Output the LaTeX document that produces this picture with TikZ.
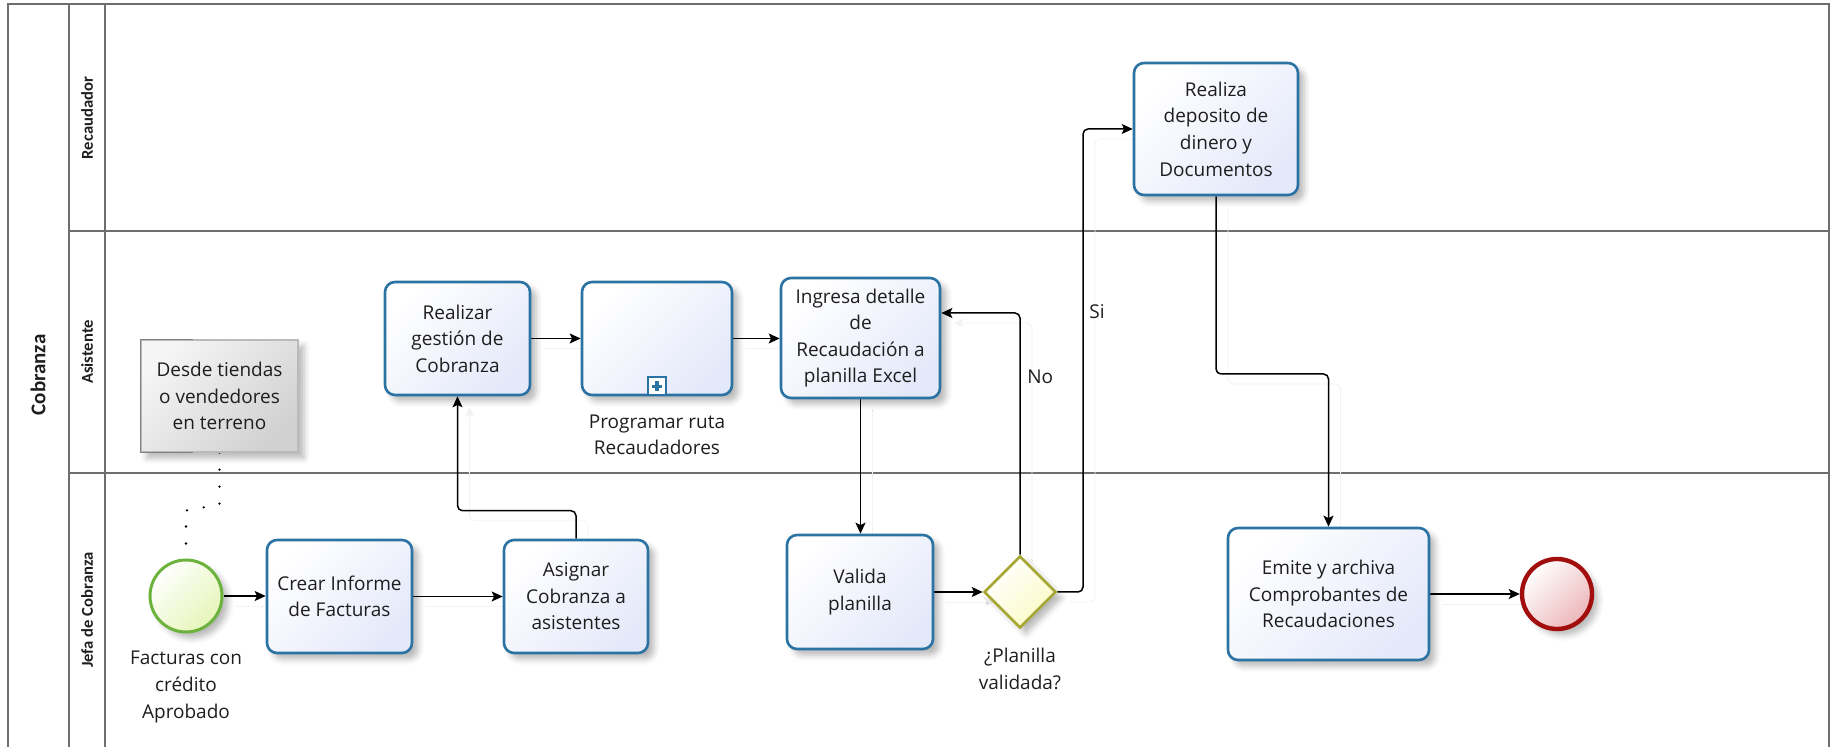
\documentclass[tikz,border=0pt]{standalone}
\usepackage{fontspec}
\setmainfont{Open Sans}
\newfontfamily\lanefont{Carlito}
\usetikzlibrary{arrows.meta,shadows.blur,shapes.geometric,calc}

\definecolor{taskline}{HTML}{2A73A2}
\definecolor{taskfill}{HTML}{E4E9FA}
\definecolor{startline}{HTML}{6CB33E}
\definecolor{startfill}{HTML}{E6F5B8}
\definecolor{endline}{HTML}{A20E0E}
\definecolor{endfill}{HTML}{ECB6B9}
\definecolor{gwline}{HTML}{A8A735}
\definecolor{gwfill}{HTML}{FAFAC6}
\definecolor{poolline}{HTML}{6E6E6E}
\definecolor{txt}{HTML}{1E1E1E}

\pgfdeclarelayer{flows}
\pgfdeclarelayer{front}
\pgfsetlayers{main,flows,front}

\begin{document}
\begin{tikzpicture}[x=0.5pt,y=-0.5pt,
  font=\fontsize{9.5pt}{13.3pt}\selectfont, text=txt,
  softshadow/.style={blur shadow={shadow xshift=3pt, shadow yshift=-3pt,
      shadow blur radius=3pt, shadow opacity=28}},
  task/.style={rectangle, rounded corners=5pt, draw=taskline, line width=1.3pt,
      top color=white, bottom color=taskfill, shading angle=45,
      align=center, inner sep=2pt, softshadow,
      minimum width=72.5pt, minimum height=56.5pt},
  gateway/.style={diamond, draw=gwline, line width=1.3pt, inner sep=0pt,
      top color=white, bottom color=gwfill, shading angle=45,
      minimum width=36pt, minimum height=36pt, softshadow},
  startev/.style={circle, draw=startline, line width=1.5pt, inner sep=0pt,
      top color=white, bottom color=startfill, shading angle=45,
      minimum size=36pt, softshadow},
  endev/.style={circle, draw=endline, line width=2.2pt, inner sep=0pt,
      top color=white, bottom color=endfill, shading angle=45,
      minimum size=35pt, softshadow},
  annot/.style={rectangle, draw=black!27, line width=0.6pt, inner sep=2pt,
      top color=black!4, bottom color=black!18, shading angle=45,
      align=center, minimum width=78.5pt, minimum height=56pt, softshadow},
  bracket/.style={draw=black!50, line width=0.7pt},
  lbl/.style={align=center, inner sep=0pt},
  pool/.style={draw=poolline, line width=0.8pt},
  lanelbl/.style={rotate=90, inner sep=0pt,
      font=\lanefont\bfseries\fontsize{8.3pt}{10pt}\selectfont},
  flow/.style={draw=black, line width=0.75pt, rounded corners=2.5pt,
      -{Stealth[length=5.5pt,width=5pt,inset=1.2pt]},
      preaction={draw=black!5, transform canvas={shift={(6pt,-5pt)}}}},
  assoc/.style={draw=black, line width=1.3pt, line cap=round,
      dash pattern=on 0pt off 8.5pt}]

\useasboundingbox (0,0) rectangle (1837,747);

% pool and lanes
\draw[pool] (8,747) -- (8,4) -- (1829,4) -- (1829,747);
\draw[pool] (69,4) -- (69,747);
\draw[pool] (105,4) -- (105,747);
\draw[pool] (69,231) -- (1829,231);
\draw[pool] (69,473) -- (1829,473);

\begin{pgfonlayer}{front}
\node[lanelbl, font=\lanefont\bfseries\fontsize{10.5pt}{12pt}\selectfont] (poolname) at (38,375) {Cobranza};
\node[lanelbl] (lanerec) at (87,118) {Recaudador};
\node[lanelbl] (laneasi) at (87,352) {Asistente};
\node[lanelbl] (lanejef) at (87,610) {Jefa de Cobranza};

% events, gateway and tasks
\node[startev] (start) at (186,596) {};
\node[lbl] (startlbl) at (186,687) {Facturas con\\crédito\\Aprobado};

\node[annot] (note) at (219.5,396) {Desde tiendas\\o vendedores\\en terreno};
\draw[bracket] ($(note.north west)+(53,0)$) -- (note.north west)
   -- (note.south west) -- ($(note.south west)+(53,0)$);

\node[task] (crear) at (339.5,596.5) {Crear Informe\\de Facturas};
\node[task, minimum width=72pt] (asignar) at (576,596.5) {Asignar\\Cobranza a\\asistentes};
\node[task] (realizar) at (457.5,338.5) {Realizar\\gestión de\\Cobranza};
\node[task, minimum width=75pt] (programar) at (657,338.5) {};
\node[lbl] (programarlbl) at (657,435) {Programar ruta\\Recaudadores};
\node[task, minimum width=79.5pt, minimum height=60pt] (ingresa) at (860.5,338)
   {Ingresa detalle\\de\\Recaudación a\\planilla Excel};
\node[task, minimum width=73pt, minimum height=57pt] (valida) at (860,592) {Valida\\planilla};
\node[gateway] (gw) at (1020,592) {};
\node[lbl] (gwlbl) at (1020,669) {¿Planilla\\validada?};
\node[task, minimum width=82pt, minimum height=66pt] (realiza) at (1216,129)
   {Realiza\\deposito de\\dinero y\\Documentos};
\node[task, minimum width=100.5pt, minimum height=66pt] (emite) at (1328.5,594)
   {Emite y archiva\\Comprobantes de\\Recaudaciones};
\node[endev] (finish) at (1557,594) {};

% collapsed sub-process marker
\node[rectangle, draw=taskline, line width=0.9pt, fill=white, inner sep=0pt,
      minimum size=9pt, anchor=south] (marker) at (programar.south) {};
\draw[taskline, line width=1.6pt] ($(marker.center)+(-5,0)$) -- ($(marker.center)+(5,0)$);
\draw[taskline, line width=1.6pt] ($(marker.center)+(0,-5)$) -- ($(marker.center)+(0,5)$);

\node[lbl, anchor=west] (nolbl) at (1027,377) {No};
\node[lbl, anchor=west] (silbl) at (1089,312) {Si};
\end{pgfonlayer}

% connectors, kept beneath the shapes
\begin{pgfonlayer}{flows}
\draw[assoc] (note.south) -- ($(note.south)+(0,52)$) -- ($(start.north)+(0,-48)$) -- (start.north);

\draw[flow] (start.east) -- (start.east -| crear.west);
\draw[flow] (crear.east) -- (crear.east -| asignar.west);
\draw[flow] (asignar.north) -- ($(asignar.north)+(0,-28)$) -| (realizar.south);
\draw[flow] (realizar.east) -- (realizar.east -| programar.west);
\draw[flow] (programar.east) -- (programar.east -| ingresa.west);
\draw[flow] (ingresa.south) -- (ingresa.south |- valida.north);
\draw[flow] (valida.east) -- (valida.east -| gw.west);
\draw[flow] (gw.north) |- ($(ingresa.east)+(0,-25)$);
\coordinate (sibend) at (1083,592);
\draw[flow] (gw.east) -- (sibend) |- (realiza.west);
\coordinate (midrow) at (0,374);
\draw[flow] (realiza.south) -- (realiza.south |- midrow) -| (emite.north);
\draw[flow] (emite.east) -- (emite.east -| finish.west);
\end{pgfonlayer}

\end{tikzpicture}
\end{document}
